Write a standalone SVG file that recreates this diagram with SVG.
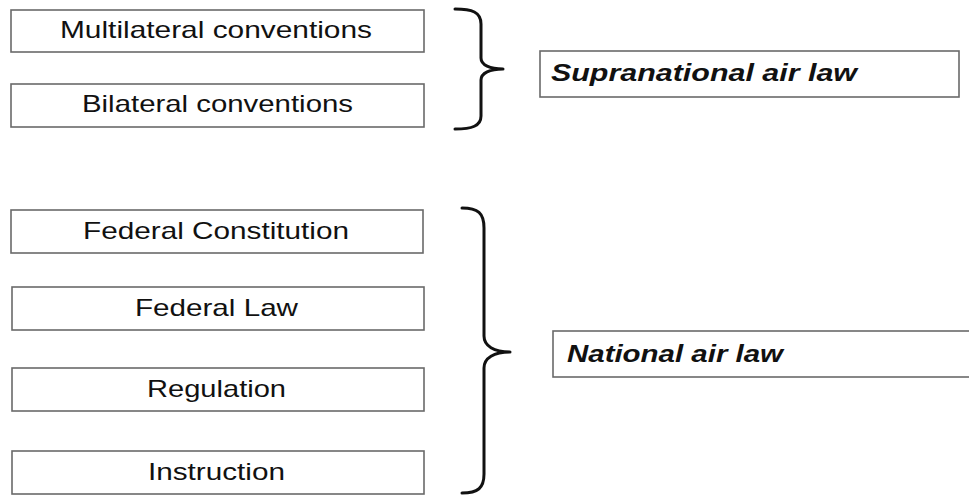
<svg xmlns="http://www.w3.org/2000/svg" width="969" height="495" viewBox="0 0 969 495">
<style>
.box{fill:#fff;stroke:#6a6a6a;stroke-width:1.6}
.t{font-family:"Liberation Sans",Arial,sans-serif;font-size:24px;fill:#111;text-anchor:start}
.bi{font-family:"Liberation Sans",Arial,sans-serif;font-size:24px;font-weight:bold;font-style:italic;fill:#111}
.brace{fill:none;stroke:#111;stroke-width:3;stroke-linecap:round;stroke-linejoin:round}
</style>
<rect width="969" height="495" fill="#fff"/>
<g id="multilateral"><rect class="box" x="11" y="10" width="413" height="42"/><text class="t" x="60" y="38" textLength="312" lengthAdjust="spacingAndGlyphs">Multilateral conventions</text></g>
<g id="bilateral"><rect class="box" x="11" y="84" width="413" height="43"/><text class="t" x="82" y="112" textLength="271" lengthAdjust="spacingAndGlyphs">Bilateral conventions</text></g>
<g id="supranational"><rect class="box" x="540" y="51" width="419" height="46"/><text class="bi" x="551" y="81" textLength="306" lengthAdjust="spacingAndGlyphs">Supranational air law</text></g>
<g id="federal-constitution"><rect class="box" x="11" y="210" width="412" height="43"/><text class="t" x="83" y="239" textLength="266" lengthAdjust="spacingAndGlyphs">Federal Constitution</text></g>
<g id="federal-law"><rect class="box" x="12" y="287" width="412" height="43"/><text class="t" x="135" y="316" textLength="163" lengthAdjust="spacingAndGlyphs">Federal Law</text></g>
<g id="regulation"><rect class="box" x="12" y="368" width="412" height="43"/><text class="t" x="147" y="397" textLength="139" lengthAdjust="spacingAndGlyphs">Regulation</text></g>
<g id="instruction"><rect class="box" x="12" y="451" width="412" height="43"/><text class="t" x="148" y="480" textLength="137" lengthAdjust="spacingAndGlyphs">Instruction</text></g>
<g id="national"><rect class="box" x="553" y="331" width="430" height="46"/><text class="bi" x="567" y="362" textLength="216" lengthAdjust="spacingAndGlyphs">National air law</text></g>
<g id="connectors">
<path class="brace" d="M455,9 C472,9 481,12 481,24 L481,58 C481,65 490,69 503,69 C490,69 481,73 481,80 L481,116 C481,126 472,129 455,129"/>
<path class="brace" d="M462,208 C478,208 484,213 484,228 L484,336 C484,346 494,352 510,352 C494,352 484,358 484,368 L484,474 C484,488 478,493 462,493"/>
</g>
</svg>
